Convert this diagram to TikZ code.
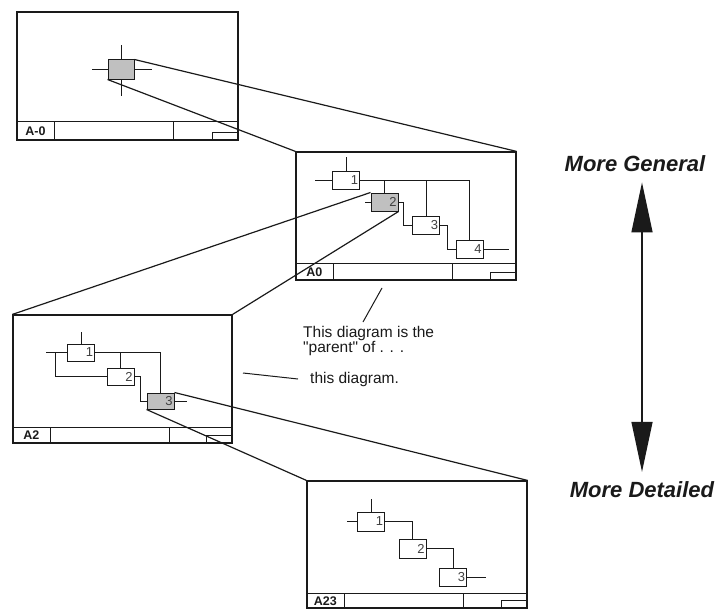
\documentclass[tikz,border=0pt]{standalone}
\usepackage{fontspec}
\setmainfont{Liberation Sans}
\usetikzlibrary{arrows.meta,calc}
\definecolor{ink}{HTML}{1A1A1A}
\definecolor{boxgray}{HTML}{C0C0C0}
\definecolor{digit}{HTML}{404040}
\tikzset{
  diagframe/.style={draw=ink,line width=1.2pt,minimum width=220pt,
                    minimum height=128pt,inner sep=0pt},
  actbox/.style={draw=ink,fill=white,line width=1pt,
                 minimum width=27pt,minimum height=18pt,inner sep=0pt,
                 text width=24pt,align=right,text=digit,
                 font=\fontsize{13}{13}\selectfont},
  selbox/.style={actbox,fill=boxgray},
  wire/.style={draw=ink,line width=1pt},
  zoomline/.style={draw=ink,line width=1.2pt},
  tlabel/.style={inner sep=0pt,font=\fontsize{12.5}{12.5}\selectfont\bfseries,text=ink},
  note/.style={inner sep=0pt,align=left,text=ink,font=\fontsize{15.5}{10}\selectfont},
  level/.style={inner sep=0pt,text=ink,font=\fontsize{22}{22}\selectfont\bfseries\itshape},
  bigarr/.style={{Triangle[length=50pt,width=21pt]}-{Triangle[length=50pt,width=21pt]},
                 line width=1.4pt,draw=ink}
}

\begin{document}
\begin{tikzpicture}[x=1pt,y=-1pt]
  \useasboundingbox (0,0) rectangle (720,610);

  % The four diagram sheets
  \node[diagframe,minimum width=221pt] (fr0) at (127.5,76) {};
  \node[diagframe] (fr1) at (406,216) {};
  \node[diagframe,minimum width=219pt] (fr2) at (122.5,379) {};
  \node[diagframe,minimum height=127pt] (fr3) at (417,544.5) {};

  % Title bars
  \foreach \f/\lab/\h in {fr0/A-0/19, fr1/A0/17, fr2/A2/16, fr3/A23/15} {
    \draw[wire,line width=1.2pt] ($(\f.south west)+(0,-\h)$) -- ($(\f.south east)+(0,-\h)$);
    \draw[wire] ($(\f.south west)+(38,0)$) -- ++(0,-\h);
    \draw[wire] ($(\f.south west)+(157,0)$) -- ++(0,-\h);
    \draw[wire] ($(\f.south east)+(-26,0)$) rectangle ++(26,-8);
    \node[tlabel] (t\f) at ($(\f.south west)+(19,-\h/2)$) {\lab};
  }

  % A-0 : the single activity
  \node[selbox,minimum width=26pt,minimum height=19pt] (g0) at (121,69.5) {};
  \draw[wire] (g0.north) -- ++(0,-14);
  \draw[wire] (g0.south) -- ++(0,16);
  \draw[wire] (g0.west) -- ++(-16,0);
  \draw[wire] (g0.east) -- ++(17,0);

  % A0 : four activities
  \node[actbox] (a1) at (346,180.5) {1};
  \node[selbox] (a2) at (384.5,202) {2};
  \node[actbox] (a3) at (426,225) {3};
  \node[actbox] (a4) at (469.5,249.5) {4};
  \draw[wire] (a1.north) -- ++(0,-14);
  \draw[wire] (a1.west) -- ++(-17,0);
  \draw[wire] (a1.east) -| (a4.north);
  \draw[wire] (a2.north |- a1.east) -- (a2.north);
  \draw[wire] (a3.north |- a1.east) -- (a3.north);
  \draw[wire] (a2.west) -- ++(-6,0);
  \draw[wire] (a2.east) -- ++(5,0) |- (a3.west);
  \draw[wire] (a3.east) -- ++(7,0) |- (a4.west);
  \draw[wire] (a4.east) -- ++(25,0);

  % A2 : three activities
  \node[actbox,minimum height=17pt] (b1) at (81,352.5) {1};
  \node[actbox,minimum height=17pt] (b2) at (120.5,376.5) {2};
  \node[selbox,minimum height=16pt] (b3) at (160.5,401) {3};
  \draw[wire] (b1.north) -- ++(0,-12);
  \draw[wire] (b1.west) -- ++(-21,0);
  \draw[wire] ([xshift=-12pt]b1.west) |- (b2.west);
  \draw[wire] (b1.east) -| (b3.north);
  \draw[wire] (b2.north |- b1.east) -- (b2.north);
  \draw[wire] (b2.east) -- ++(6,0) |- (b3.west);
  \draw[wire] (b3.east) -- ++(12,0);

  % A23 : three activities
  \node[actbox,minimum height=19pt] (c1) at (371,521.5) {1};
  \node[actbox,minimum height=19pt] (c2) at (412.5,548.5) {2};
  \node[actbox] (c3) at (453,577) {3};
  \draw[wire] (c1.north) -- ++(0,-13);
  \draw[wire] (c1.west) -- ++(-10,0);
  \draw[wire] (c1.east) -| (c2.north);
  \draw[wire] (c2.east) -| (c3.north);
  \draw[wire] (c3.east) -- ++(19,0);

  % Zoom lines (parent box -> child sheet)
  \draw[zoomline] (g0.north east) -- (fr1.north east);
  \draw[zoomline] (g0.south west) -- (fr1.north west);
  \draw[zoomline] (a2.north west) -- (fr2.north west);
  \draw[zoomline] (a2.south east) -- (fr2.north east);
  \draw[zoomline] (b3.north east) -- (fr3.north east);
  \draw[zoomline] (b3.south west) -- (fr3.north west);

  % Notes
  \node[note,anchor=north west] (ptxt) at (303,326)
    {This diagram is the\\\textquotedbl parent\textquotedbl{} of . . .};
  \node[note,anchor=base west] (ctxt) at (310,383) {this diagram.};
  \coordinate (pa) at (382,288);
  \coordinate (pb) at (363,322);
  \coordinate (ca) at (243,373);
  \coordinate (cb) at (298,379);
  \draw[wire] (pa) -- (pb);
  \draw[wire] (ca) -- (cb);

  % Level of detail
  \node[level,anchor=base] (gen) at (635,171) {More General};
  \node[level,anchor=base] (det) at (642,497) {More Detailed};
  \draw[bigarr] ([yshift=-11pt]gen.south -| det.north) -- ([yshift=9pt]det.north);
\end{tikzpicture}
\end{document}
